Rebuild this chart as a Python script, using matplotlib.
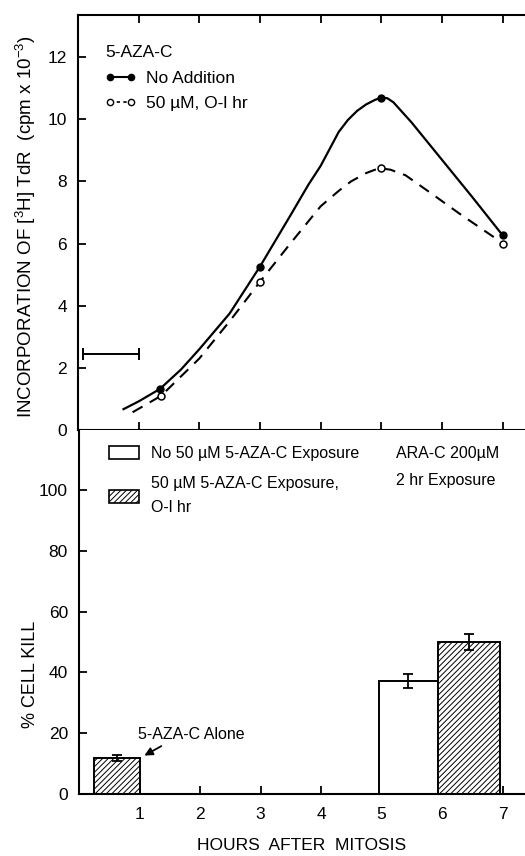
import matplotlib
matplotlib.use('Agg')
import matplotlib.pyplot as plt
from matplotlib.patches import Patch
from matplotlib.lines import Line2D

plt.rcParams['font.family'] = ['Liberation Sans', 'DejaVu Sans']
plt.rcParams['mathtext.default'] = 'regular'
plt.rcParams['hatch.linewidth'] = 0.7

# top panel: measured points
pts_x_noadd = [1.35, 3, 5, 7]
pts_y_noadd = [1.32, 5.26, 10.7, 6.27]
pts_x_aza = [1.37, 3, 5, 7]
pts_y_aza = [1.1, 4.77, 8.42, 6.0]

# hand drawn curves
curve_x_noadd = [0.75, 1.0, 1.35, 1.7, 2.0, 2.5, 3.0, 3.5, 3.8, 4.0, 4.15, 4.3, 4.45, 4.6,
                 4.75, 4.9, 5.0, 5.1, 5.2, 5.5, 6.0, 6.5, 7.0]
curve_y_noadd = [0.67, 0.92, 1.32, 1.95, 2.6, 3.75, 5.26, 6.9, 7.9, 8.5, 9.05, 9.6, 9.98, 10.27,
                 10.48, 10.63, 10.7, 10.68, 10.55, 9.9, 8.7, 7.5, 6.27]
curve_x_aza = [0.9, 1.37, 2.0, 2.5, 3.0, 3.5, 4.0, 4.3, 4.5, 4.75, 4.9, 5.0, 5.15, 5.4, 5.8, 6.3, 6.9]
curve_y_aza = [0.57, 1.1, 2.3, 3.5, 4.77, 6.0, 7.2, 7.7, 8.0, 8.27, 8.38, 8.42, 8.38, 8.2, 7.65, 6.95, 6.15]

# exposure period bar
exposure_x = [0.08, 1.0]
exposure_y = [2.45, 2.45]

# bottom panel bars
bar_x = [0.625, 5.44, 6.44]
bar_w = [0.75, 0.98, 1.02]
bar_h = [11.8, 37.0, 50.0]
bar_err = [1.1, 2.3, 2.7]
bar_hatched = [True, False, True]

hours = [1, 2, 3, 4, 5, 6, 7]

fig = plt.figure(figsize=(5.25, 8.56), dpi=100)
ax1 = fig.add_axes([0.1486, 0.4977, 0.8514, 0.4848])
ax2 = fig.add_axes([0.1505, 0.0724, 0.8495, 0.4253])

# ---- top panel
ax1.plot(curve_x_noadd, curve_y_noadd, color='black', lw=1.6)
ax1.plot(curve_x_aza, curve_y_aza, color='black', lw=1.5, ls=(0, (5.5, 4)))
ax1.plot(pts_x_noadd, pts_y_noadd, 'o', color='black', ms=5)
ax1.plot(pts_x_aza, pts_y_aza, 'o', color='black', mfc='white', ms=5, mew=1.1)
ax1.plot(exposure_x, exposure_y, color='black', lw=1.4, marker='|', ms=9, mew=1.4)

ax1.set_xlim(0, 7.37)
ax1.set_ylim(0, 13.36)
ax1.set_xticks(hours)
ax1.set_xticklabels([])
ax1.set_yticks([0, 2, 4, 6, 8, 10, 12])
ax1.tick_params(axis='both', direction='in', length=6, width=1.3, labelsize=12.5, pad=8)
ax1.tick_params(axis='x', top=True)
ax1.spines['right'].set_visible(False)
for s in ['left', 'top', 'bottom']:
    ax1.spines[s].set_linewidth(1.5)
ax1.set_ylabel(r'INCORPORATION OF [$^3$H] TdR  (cpm x 10$^{-3}$)', fontsize=13.5)
ax1.yaxis.set_label_coords(-0.09, 0.49)

h1 = Line2D([], [], color='black', lw=1.5, marker='o', ms=4.5)
h2 = Line2D([], [], color='black', lw=1.2, ls=(0, (2, 2)), marker='o', mfc='white', ms=4.5)
leg1 = ax1.legend([h1, h2], ['No Addition', '50 µM, O-l hr'], title='5-AZA-C', numpoints=2,
                  frameon=False, loc='upper left', bbox_to_anchor=(0.025, 0.965),
                  fontsize=12.5, title_fontsize=12.5, handlelength=1.8, handletextpad=0.6,
                  labelspacing=0.6, alignment='left')

# ---- bottom panel
for x, w, h, e, hat in zip(bar_x, bar_w, bar_h, bar_err, bar_hatched):
    ax2.bar(x, h, width=w, color='white', edgecolor='black', lw=1.4,
            hatch='//////' if hat else None, zorder=2)
ax2.errorbar(bar_x, bar_h, yerr=bar_err, fmt='none', ecolor='black', elinewidth=1.3,
             capsize=3.5, capthick=1.3, zorder=3)

ax2.set_xlim(0, 7.37)
ax2.set_ylim(0, 119.7)
ax2.set_xticks(hours)
ax2.set_yticks([0, 20, 40, 60, 80, 100])
ax2.tick_params(axis='both', direction='in', length=6, width=1.3, labelsize=12.5, pad=8)
ax2.spines['right'].set_visible(False)
ax2.spines['top'].set_visible(False)
for s in ['left', 'bottom']:
    ax2.spines[s].set_linewidth(1.5)
ax2.set_xticklabels([str(h) for h in hours])
ax2.tick_params(axis='x', pad=9)
ax2.set_ylabel('% CELL KILL', fontsize=13)
ax2.yaxis.set_label_coords(-0.09, 0.33)
ax2.set_xlabel('HOURS  AFTER  MITOSIS', fontsize=12.5, labelpad=12)

p1 = Patch(facecolor='white', edgecolor='black', lw=1.2)
p2 = Patch(facecolor='white', edgecolor='black', lw=1.2, hatch='//////')
leg2 = ax2.legend([p1, p2], ['No 50 µM 5-AZA-C Exposure', '50 µM 5-AZA-C Exposure,\nO-l hr'],
                  frameon=False, loc='upper left', bbox_to_anchor=(0.035, 0.995),
                  fontsize=11.5, handlelength=1.9, handleheight=0.85, handletextpad=0.7,
                  labelspacing=0.95)
leg2.get_texts()[1].set_linespacing(1.75)
ax2.text(0.71, 0.955, 'ARA-C 200µM\n2 hr Exposure', transform=ax2.transAxes,
         fontsize=11.5, va='top', ha='left', linespacing=1.95)

ax2.annotate('', xy=(1.04, 12.2), xytext=(1.4, 16.2),
             arrowprops=dict(arrowstyle='-|>', color='black', lw=1.3, mutation_scale=12))
ax2.text(0.97, 19.7, '5-AZA-C Alone', fontsize=11.5, va='center', ha='left')

fig.savefig('out.png', dpi=100)
